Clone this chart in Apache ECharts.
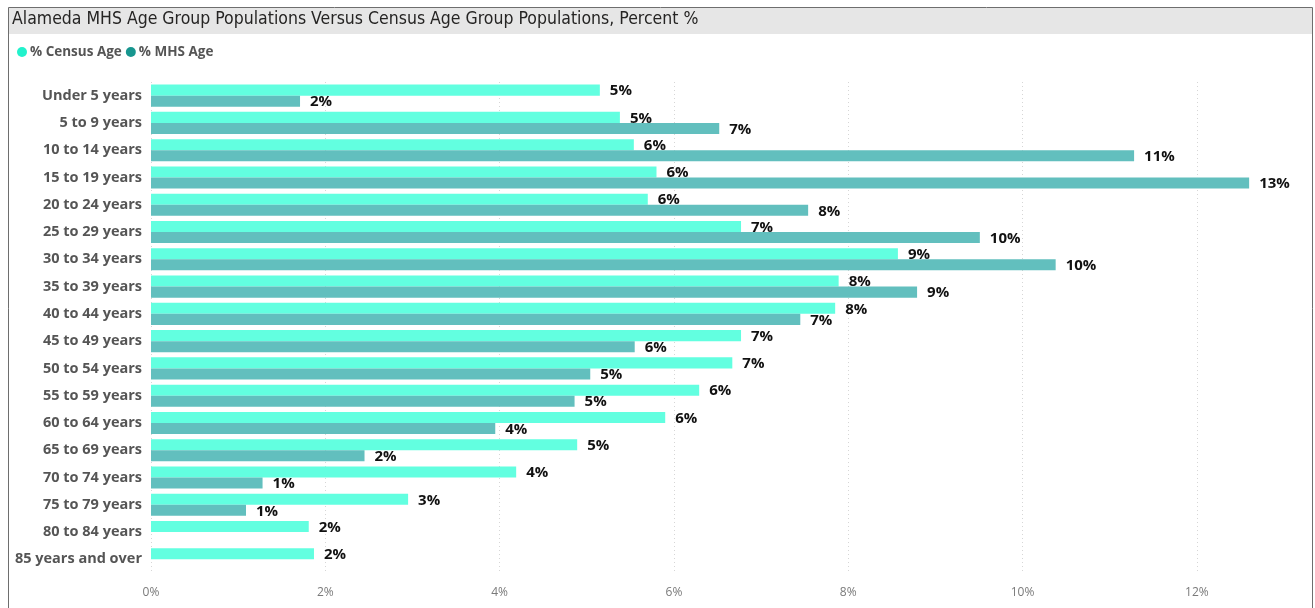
<!DOCTYPE html>
<html>
<head>
<meta charset="utf-8">
<script src="https://cdn.jsdelivr.net/npm/echarts@6/dist/echarts.min.js"></script>
<style>
  html, body { margin: 0; padding: 0; background: #ffffff; }
  #chart { width: 1315px; height: 608px; }
</style>
</head>
<body>
<div id="chart"></div>
<script>
// Age groups, top to bottom
const ageGroups = [
  'Under 5 years', '5 to 9 years', '10 to 14 years', '15 to 19 years',
  '20 to 24 years', '25 to 29 years', '30 to 34 years', '35 to 39 years',
  '40 to 44 years', '45 to 49 years', '50 to 54 years', '55 to 59 years',
  '60 to 64 years', '65 to 69 years', '70 to 74 years', '75 to 79 years',
  '80 to 84 years', '85 years and over'
];

// Share of the census population in each age group (%)
const censusPct = [5.15, 5.38, 5.54, 5.80, 5.70, 6.77, 8.57, 7.89, 7.85,
                   6.77, 6.67, 6.29, 5.90, 4.89, 4.19, 2.95, 1.81, 1.87];

// Share of MHS clients in each age group (%)
const mhsPct = [1.71, 6.52, 11.28, 12.60, 7.54, 9.51, 10.38, 8.79, 7.45,
                5.55, 5.04, 4.86, 3.95, 2.45, 1.28, 1.09, null, null];

const seriesNames = ['% Census Age', '% MHS Age'];
const xTicks = [0, 2, 4, 6, 8, 10, 12];

const chart = echarts.init(document.getElementById('chart'), null, { renderer: 'canvas' });

const valueLabel = {
  show: true,
  position: 'right',
  distance: 10,
  offset: [0, 1],
  formatter: p => (p.value == null ? '' : Math.round(p.value) + '%'),
  color: '#111111',
  fontFamily: '"Open Sans", "Noto Sans", sans-serif',
  fontWeight: 'bold',
  fontSize: 15
};

chart.setOption({
  animation: false,
  graphic: [
    // panel frame
    { type: 'rect', shape: { x: 8.5, y: 7.5, width: 1304, height: 610 },
      style: { fill: 'none', stroke: '#6e6e6e', lineWidth: 1 }, z: 10 },
    // title bar
    { type: 'rect', shape: { x: 9, y: 8, width: 1303, height: 26 },
      style: { fill: '#e6e6e6' }, z: 1 },
    { type: 'text', left: 12, top: 10,
      style: { text: 'Alameda MHS Age Group Populations Versus Census Age Group Populations, Percent %',
               fill: '#252423', fontSize: 17.5,
               fontFamily: '"Liberation Sans Narrow", "DejaVu Sans Condensed", "Roboto", sans-serif' }, z: 2 }
  ],
  legend: {
    left: 12, top: 40,
    icon: 'circle',
    itemWidth: 10, itemHeight: 10, itemGap: 4,
    textStyle: { color: '#555555', fontWeight: 'bold', fontSize: 13.5,
                 fontFamily: '"Open Sans", "Noto Sans", sans-serif', padding: [0, 0, 0, -2] },
    data: [
      { name: seriesNames[0], itemStyle: { color: '#22f2cc' } },
      { name: seriesNames[1], itemStyle: { color: '#17968f' } }
    ]
  },
  grid: { left: 151, top: 82, width: 1133, height: 491, containLabel: false },
  xAxis: {
    type: 'value',
    min: 0, max: 13, interval: 2,
    axisLine: { show: false },
    axisTick: { show: false },
    axisLabel: {
      color: '#7a7a7a', fontSize: 12, margin: 14,
      fontFamily: '"Open Sans", "Noto Sans", sans-serif',
      formatter: v => (xTicks.indexOf(v) >= 0 ? v + '%' : '')
    },
    splitLine: { show: true, showMaxLine: false,
                 lineStyle: { color: '#d6d6d6', type: [1, 3], width: 1 } }
  },
  yAxis: {
    type: 'category',
    data: ageGroups,
    inverse: true,
    axisLine: { show: false },
    axisTick: { show: false },
    axisLabel: {
      color: '#555555', fontSize: 14.5, fontWeight: 'bold', margin: 9,
      fontFamily: '"Open Sans", "Noto Sans", sans-serif'
    }
  },
  series: [
    {
      name: seriesNames[0], type: 'bar', data: censusPct,
      barGap: '0%', barCategoryGap: '19%',
      itemStyle: { color: '#62ffe0' },
      label: valueLabel
    },
    {
      name: seriesNames[1], type: 'bar', data: mhsPct,
      itemStyle: { color: '#62bfbe' },
      label: valueLabel
    }
  ]
});
</script>
</body>
</html>
